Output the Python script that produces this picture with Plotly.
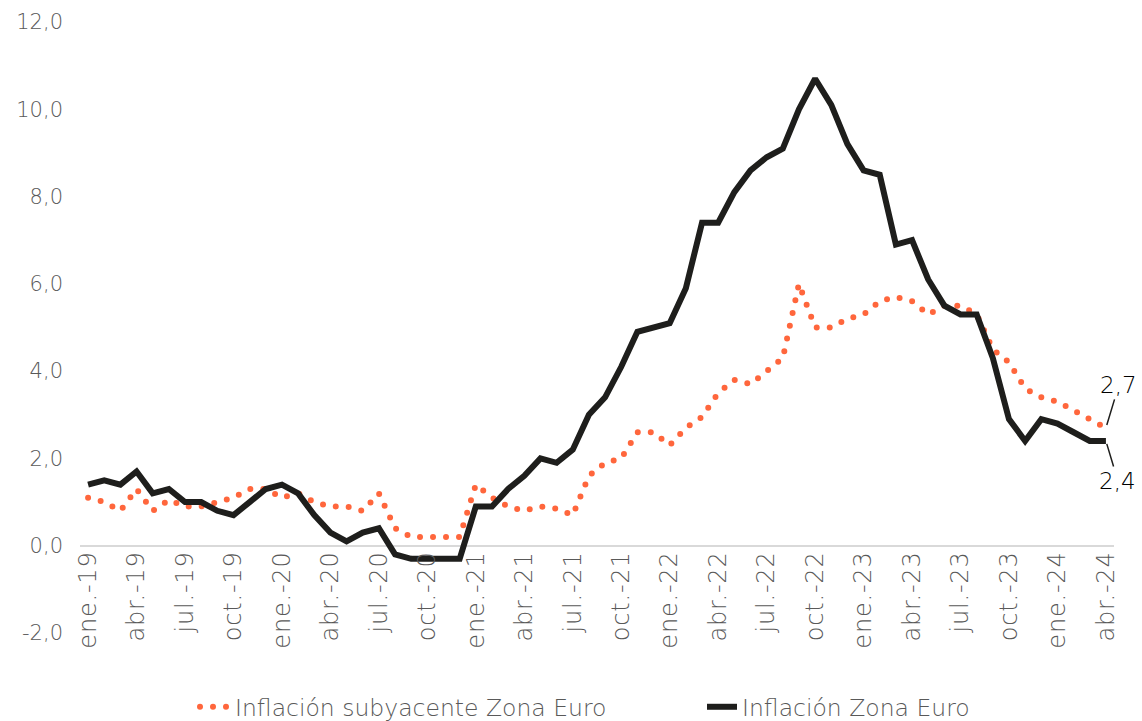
import plotly.graph_objects as go

meses = ["ene.", "feb.", "mar.", "abr.", "may.", "jun.", "jul.", "ago.", "sept.", "oct.", "nov.", "dic."]
anios = ["19", "20", "21", "22", "23", "24"]
fechas = [f"{m}-{a}" for a in anios for m in meses][:64]

inflacion = [
    1.4, 1.5, 1.4, 1.7, 1.2, 1.3, 1.0, 1.0, 0.8, 0.7, 1.0, 1.3,
    1.4, 1.2, 0.7, 0.3, 0.1, 0.3, 0.4, -0.2, -0.3, -0.3, -0.3, -0.3,
    0.9, 0.9, 1.3, 1.6, 2.0, 1.9, 2.2, 3.0, 3.4, 4.1, 4.9, 5.0,
    5.1, 5.9, 7.4, 7.4, 8.1, 8.6, 8.9, 9.1, 10.0, 10.7, 10.1, 9.2,
    8.6, 8.5, 6.9, 7.0, 6.1, 5.5, 5.3, 5.3, 4.3, 2.9, 2.4, 2.9,
    2.8, 2.6, 2.4, 2.4,
]
subyacente = [
    1.1, 1.0, 0.8, 1.3, 0.8, 1.05, 0.9, 0.9, 1.0, 1.1, 1.3, 1.3,
    1.1, 1.2, 1.0, 0.9, 0.9, 0.8, 1.2, 0.4, 0.2, 0.2, 0.2, 0.2,
    1.4, 1.1, 0.9, 0.8, 0.9, 0.85, 0.7, 1.6, 1.9, 2.0, 2.6, 2.6,
    2.3, 2.7, 2.95, 3.5, 3.8, 3.7, 4.0, 4.3, 6.0, 5.0, 5.0, 5.2,
    5.3, 5.6, 5.7, 5.6, 5.3, 5.5, 5.5, 5.3, 4.5, 4.2, 3.6, 3.4,
    3.3, 3.1, 2.9, 2.7,
]
ticks_x = fechas[::3]
ticks_y = [-2, 0, 2, 4, 6, 8, 10, 12]
etiquetas_y = ["-2,0", "0,0", "2,0", "4,0", "6,0", "8,0", "10,0", "12,0"]

NARANJA = "rgb(255,102,60)"
NEGRO = "#1e1e1c"
GRIS = "#595959"
FUENTE = "DejaVu Sans"
PESO = 200

fig = go.Figure()
fig.add_trace(go.Scatter(
    x=fechas, y=subyacente, mode="lines", name="Inflación subyacente Zona Euro",
    line=dict(color=NARANJA, width=6, dash="0px,13px"),
))
fig.add_trace(go.Scatter(
    x=fechas, y=inflacion, mode="lines", name="Inflación Zona Euro",
    line=dict(color=NEGRO, width=6),
))

fig.add_annotation(x=fechas[-1], y=subyacente[-1], text="2,7", showarrow=True,
                   arrowhead=0, arrowwidth=1.5, arrowcolor=NEGRO, ax=13, ay=-43,
                   standoff=3, font=dict(family=FUENTE, size=23, color="#000000", weight=300))
fig.add_annotation(x=fechas[-1], y=inflacion[-1], text="2,4", showarrow=True,
                   arrowhead=0, arrowwidth=1.5, arrowcolor=NEGRO, ax=12, ay=40,
                   standoff=3, font=dict(family=FUENTE, size=23, color="#000000", weight=300))

fig.update_layout(
    width=1142, height=721,
    margin=dict(l=80, r=28, t=22, b=88),
    paper_bgcolor="white", plot_bgcolor="white",
    separators=",.",
    font=dict(family=FUENTE, color=GRIS, size=20, weight=PESO),
    showlegend=True,
    legend=dict(orientation="h", xref="container", yref="container",
                x=195 / 1142, xanchor="left", y=1 - 707 / 721, yanchor="middle",
                font=dict(family=FUENTE, size=23.5, color=GRIS, weight=PESO),
                entrywidth=462, entrywidthmode="pixels"),
    xaxis=dict(
        type="category", range=[-0.5, 63.5], tickmode="array", tickvals=ticks_x,
        tickangle=-90, showgrid=False, showline=False, zeroline=False, ticks="",
        anchor="free", position=2 / 14, automargin=False,
        tickfont=dict(family=FUENTE, size=24, color=GRIS, weight=PESO),
    ),
    yaxis=dict(
        range=[-2, 12], tickmode="array", tickvals=ticks_y, ticktext=etiquetas_y,
        showgrid=False, zeroline=True, zerolinecolor="#d9d9d9", zerolinewidth=2,
        showline=False, ticks="", automargin=False, ticklabelstandoff=16,
        tickfont=dict(family=FUENTE, size=21, color=GRIS, weight=PESO),
    ),
)

post = """
document.body.style.margin = '0';
var gd = document.getElementById('{plot_id}');
function ajustar(){
  document.querySelectorAll('path').forEach(function(p){
    var d = p.style.strokeDasharray || '';
    if (d.indexOf('13px') >= 0) { p.style.strokeLinecap = 'round'; }
  });
  document.querySelectorAll('.xtick text').forEach(function(t){
    t.style.letterSpacing = '0.8px';
  });
}
ajustar();
if (gd && gd.on) { gd.on('plotly_afterplot', ajustar); }
"""
fig.write_html("out.html", post_script=post, config={"displayModeBar": False})
